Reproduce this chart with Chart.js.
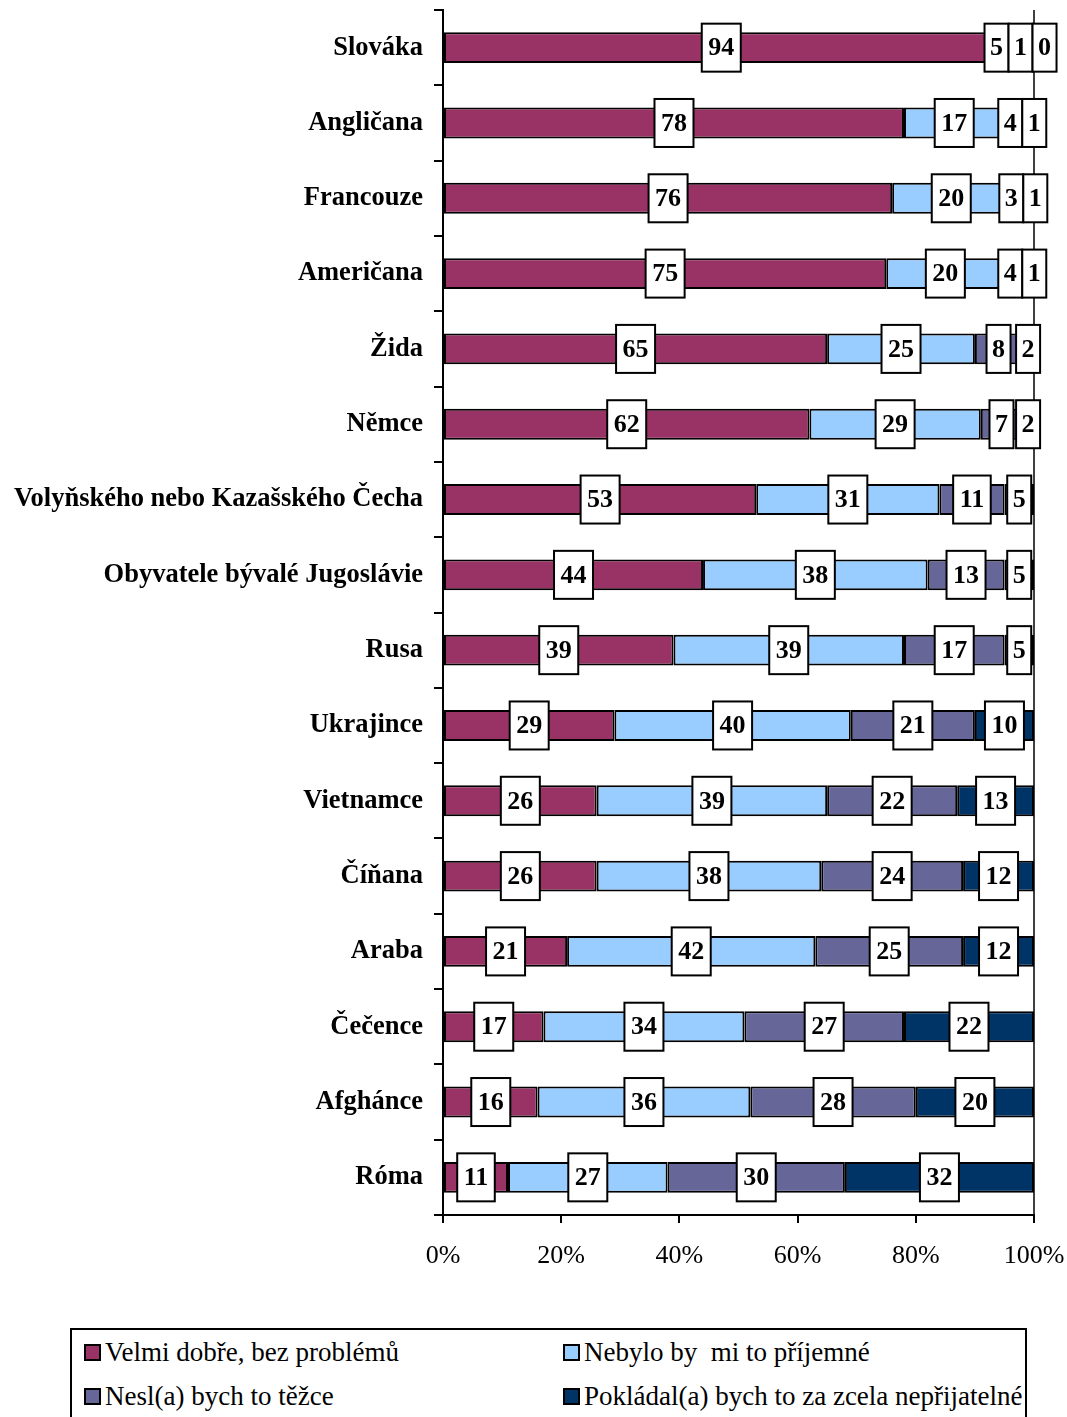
<!DOCTYPE html>
<html lang="cs">
<head>
    <meta charset="UTF-8">
    <title>Postoj k soužití</title>
    <script src="https://cdn.jsdelivr.net/npm/chart.js"></script>
    <style>
        body {
            margin: 0;
            background: #ffffff;
            font-family: 'Liberation Serif', serif;
        }
        #wrap {
            position: relative;
            width: 1067px;
            height: 1417px;
            overflow: hidden;
        }
        .legend {
            position: absolute;
            left: 70px;
            top: 1328px;
            width: 953px;
            height: 110px;
            border: 2px solid #000;
        }
        .legend .item {
            position: absolute;
            font-size: 27px;
            color: #000;
            white-space: pre;
            line-height: 28px;
        }
        .legend .sw {
            display: inline-block;
            width: 13px;
            height: 13px;
            border: 2px solid #000;
            margin-right: 4px;
            vertical-align: 0px;
        }
    </style>
</head>
<body>
<div id="wrap">
    <canvas id="chart" width="1067" height="1300"></canvas>
    <div class="legend" id="legend"></div>
</div>

<script>
    const categories = [
        "Slováka", "Angličana", "Francouze", "Američana", "Žida", "Němce",
        "Volyňského nebo Kazašského Čecha", "Obyvatele bývalé Jugoslávie",
        "Rusa", "Ukrajince", "Vietnamce", "Číňana", "Araba", "Čečence",
        "Afghánce", "Róma"
    ];
    const velmiDobre   = [94, 78, 76, 75, 65, 62, 53, 44, 39, 29, 26, 26, 21, 17, 16, 11];
    const nebyloBy     = [ 5, 17, 20, 20, 25, 29, 31, 38, 39, 40, 39, 38, 42, 34, 36, 27];
    const neslBych     = [ 1,  4,  3,  4,  8,  7, 11, 13, 17, 21, 22, 24, 25, 27, 28, 30];
    const pokladalBych = [ 0,  1,  1,  1,  2,  2,  5,  5,  5, 10, 13, 12, 12, 22, 20, 32];
    const seriesNames = [
        "Velmi dobře, bez problémů",
        "Nebylo by  mi to příjemné",
        "Nesl(a) bych to těžce",
        "Pokládal(a) bych to za zcela nepřijatelné"
    ];
    const colors = ["#993366", "#99ccff", "#666699", "#003366"];
    const xTicks = [0, 20, 40, 60, 80, 100];

    const seriesData = [velmiDobre, nebyloBy, neslBych, pokladalBych];

    // value boxes drawn over the bars, pushed apart when they collide
    const boxLabels = {
        id: "boxLabels",
        afterDatasetsDraw(chart) {
            const ctx = chart.ctx;
            ctx.save();
            ctx.font = "bold 26px 'Liberation Serif'";
            ctx.textAlign = "center";
            ctx.textBaseline = "middle";
            categories.forEach((cat, i) => {
                const boxes = seriesData.map((arr, d) => {
                    const el = chart.getDatasetMeta(d).data[i];
                    const t = String(arr[i]);
                    return {
                        t: t,
                        c: (el.x + el.base) / 2,
                        w: ctx.measureText(t).width + (t.length > 1 ? 13 : 11),
                        y: el.y
                    };
                });
                // left box gives way more than the right one
                for (let it = 0; it < 80; it++) {
                    for (let k = 0; k < boxes.length - 1; k++) {
                        const a = boxes[k], b = boxes[k + 1];
                        const gap = (b.c - b.w / 2) - (a.c + a.w / 2);
                        if (gap < 0) {
                            a.c += gap * 0.65;
                            b.c -= gap * 0.35;
                        }
                    }
                }
                boxes.forEach(b => {
                    const h = 48;
                    ctx.fillStyle = "#fff";
                    ctx.fillRect(b.c - b.w / 2, b.y - h / 2, b.w, h);
                    ctx.lineWidth = 2;
                    ctx.strokeStyle = "#000";
                    ctx.strokeRect(b.c - b.w / 2, b.y - h / 2, b.w, h);
                    ctx.fillStyle = "#000";
                    ctx.fillText(b.t, b.c, b.y + 1);
                });
            });
            ctx.restore();
        }
    };

    const rightLine = {
        id: "rightLine",
        beforeDatasetsDraw(chart) {
            const a = chart.chartArea;
            const ctx = chart.ctx;
            ctx.save();
            ctx.strokeStyle = "#000";
            ctx.lineWidth = 1.5;
            ctx.beginPath();
            ctx.moveTo(a.right, a.top);
            ctx.lineTo(a.right, a.bottom);
            ctx.stroke();
            ctx.restore();
        }
    };

    new Chart(document.getElementById("chart"), {
        type: "bar",
        data: {
            labels: categories,
            datasets: seriesData.map((arr, d) => ({
                label: seriesNames[d],
                data: arr,
                backgroundColor: colors[d],
                borderColor: "#000",
                borderWidth: 2,
                borderSkipped: false,
                barPercentage: 0.41,
                categoryPercentage: 1
            }))
        },
        options: {
            indexAxis: "y",
            responsive: false,
            animation: false,
            layout: { padding: { top: 10, right: 33, left: 0, bottom: 0 } },
            plugins: {
                legend: { display: false },
                tooltip: { enabled: false }
            },
            scales: {
                x: {
                    stacked: true,
                    min: 0,
                    max: 100,
                    afterFit(scale) {
                        scale.height = 85;
                        scale.paddingLeft = 0;
                        scale.paddingRight = 0;
                    },
                    afterBuildTicks(scale) { scale.ticks = xTicks.map(v => ({ value: v })); },
                    ticks: {
                        callback: v => v + "%",
                        color: "#000",
                        font: { family: "'Liberation Serif'", size: 26 },
                        padding: 18,
                        maxRotation: 0
                    },
                    grid: {
                        drawOnChartArea: false,
                        color: "#000",
                        lineWidth: 2,
                        tickLength: 8
                    },
                    border: { color: "#000", width: 2 }
                },
                y: {
                    stacked: true,
                    afterFit(scale) {
                        scale.width = 443;
                        scale.paddingTop = 0;
                        scale.paddingBottom = 0;
                    },
                    ticks: {
                        color: "#000",
                        font: { family: "'Liberation Serif'", size: 26.5, weight: "bold" },
                        padding: 11,
                        autoSkip: false
                    },
                    grid: {
                        offset: true,
                        drawOnChartArea: false,
                        color: "#000",
                        lineWidth: 2,
                        tickLength: 9
                    },
                    border: { color: "#000", width: 2 }
                }
            }
        },
        plugins: [rightLine, boxLabels]
    });

    // two-column legend like the original
    const legendPos = [[12, 8], [491, 8], [12, 52], [491, 52]];
    const legend = document.getElementById("legend");
    seriesNames.forEach((name, d) => {
        const item = document.createElement("div");
        item.className = "item";
        item.style.left = legendPos[d][0] + "px";
        item.style.top = legendPos[d][1] + "px";
        const sw = document.createElement("span");
        sw.className = "sw";
        sw.style.background = colors[d];
        item.appendChild(sw);
        item.appendChild(document.createTextNode(name));
        legend.appendChild(item);
    });
</script>
</body>
</html>
